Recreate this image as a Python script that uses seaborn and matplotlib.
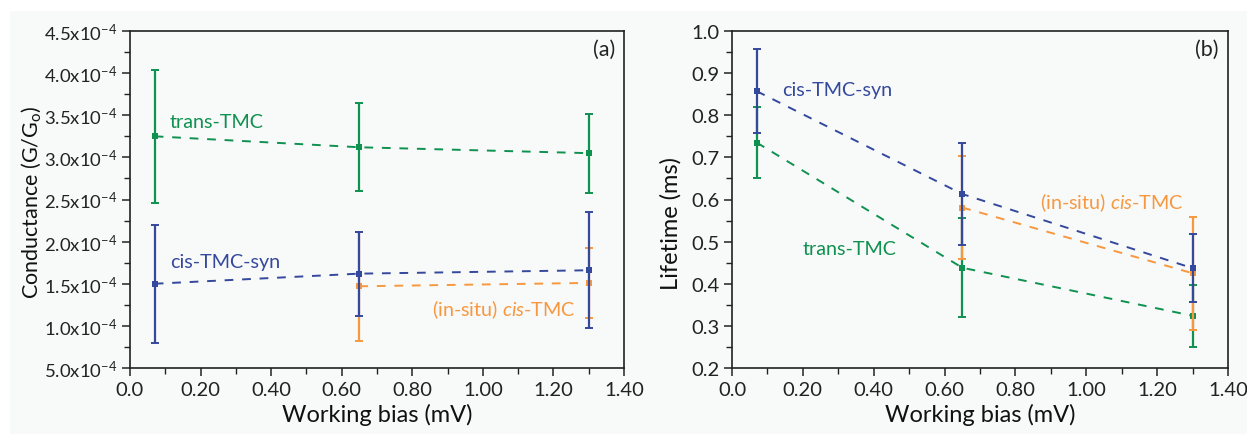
import numpy as np
import pandas as pd
import matplotlib
matplotlib.use("Agg")
import matplotlib.pyplot as plt
from matplotlib.ticker import MultipleLocator, FixedLocator, FixedFormatter
import seaborn as sns

# ---------------- data ----------------
bias = [0.07, 0.65, 1.30]
bias_insitu = [0.65, 1.30]

# conductance (units of 1e-4 G/G0)
cond_trans = [3.25, 3.12, 3.05]
cond_trans_err = [0.79, 0.52, 0.47]
cond_syn = [1.50, 1.62, 1.66]
cond_syn_err = [0.70, 0.50, 0.69]
cond_insitu = [1.47, 1.51]
cond_insitu_err = [0.65, 0.42]

# lifetime (ms)
life_syn = [0.857, 0.613, 0.437]
life_syn_err = [0.100, 0.120, 0.080]
life_trans = [0.735, 0.438, 0.324]
life_trans_err = [0.085, 0.118, 0.074]
life_insitu = [0.581, 0.425]
life_insitu_err = [0.122, 0.134]

x_ticks = [0.0, 0.2, 0.4, 0.6, 0.8, 1.0, 1.2, 1.4]
x_tick_labels = ["0.0", "0.20", "0.40", "0.60", "0.80", "1.00", "1.20", "1.40"]
cond_ticks = [0.5, 1.0, 1.5, 2.0, 2.5, 3.0, 3.5, 4.0, 4.5]
cond_tick_labels = ["5.0", "1.0", "1.5", "2.0", "2.5", "3.0", "3.5", "4.0", "4.5"]
life_ticks = [0.2, 0.3, 0.4, 0.5, 0.6, 0.7, 0.8, 0.9, 1.0]
life_tick_labels = ["0.2", "0.3", "0.4", "0.5", "0.6", "0.7", "0.8", "0.9", "1.0"]

GREEN = "#0f9150"
BLUE = "#34489c"
ORANGE = "#f7983f"
BG = "#f8f9f9"

sns.set_theme(style="ticks")
FONT = "Lato"
plt.rcParams["font.family"] = [FONT, "DejaVu Sans"]
plt.rcParams["mathtext.fontset"] = "custom"
plt.rcParams["mathtext.rm"] = FONT
plt.rcParams["mathtext.it"] = FONT + ":italic"
plt.rcParams["mathtext.bf"] = FONT + ":bold"

fig = plt.figure(figsize=(12.47, 4.35), dpi=100, facecolor="white")
fig.patches.append(plt.Rectangle((10 / 1247, 0), 1 - 10 / 1247, 1 - 12 / 435,
                                 transform=fig.transFigure, facecolor=BG,
                                 edgecolor="none", zorder=-10))

axL = fig.add_axes([130 / 1247, 1 - 369 / 435, 494 / 1247, 337 / 435])
axR = fig.add_axes([732 / 1247, 1 - 369 / 435, 496 / 1247, 337 / 435])

def series(ax, x, y, err, color, z):
    df = pd.DataFrame({"x": x, "y": y})
    sns.lineplot(data=df, x="x", y="y", ax=ax, color=color, linewidth=1.4,
                 linestyle=(0, (4.5, 4.5)), marker="s", markersize=5,
                 markeredgewidth=0, zorder=z)
    ax.errorbar(x, y, yerr=err, fmt="none", ecolor=color, elinewidth=1.6,
                capsize=3.2, capthick=1.4, zorder=z)

series(axL, bias, cond_trans, cond_trans_err, GREEN, 3)
series(axL, bias_insitu, cond_insitu, cond_insitu_err, ORANGE, 3)
series(axL, bias, cond_syn, cond_syn_err, BLUE, 4)

series(axR, bias, life_trans, life_trans_err, GREEN, 3)
series(axR, bias_insitu, life_insitu, life_insitu_err, ORANGE, 3)
series(axR, bias, life_syn, life_syn_err, BLUE, 4)

for ax in (axL, axR):
    ax.set_facecolor(BG)
    ax.set_xlim(0, 1.4)
    ax.xaxis.set_major_locator(FixedLocator(x_ticks))
    ax.xaxis.set_major_formatter(FixedFormatter(x_tick_labels))
    ax.xaxis.set_minor_locator(MultipleLocator(0.1))
    ax.set_xlabel("Working bias (mV)", fontsize=17, color="#111111", labelpad=4)
    for s in ax.spines.values():
        s.set_visible(True)
        s.set_color("#222222")
        s.set_linewidth(1.2)
    ax.tick_params(which="major", direction="out", length=6, width=1.1,
                   labelsize=14.5, colors="#222222", pad=3)
    ax.tick_params(which="minor", direction="out", length=4, width=1.0,
                   colors="#222222")
    ax.tick_params(axis="both", which="both", top=False, right=False)

axL.set_ylim(0.5, 4.5)
axL.yaxis.set_major_locator(FixedLocator(cond_ticks))
axL.yaxis.set_major_formatter(FixedFormatter(
    [l + r"x10$^{\mathregular{-4}}$" for l in cond_tick_labels]))
axL.yaxis.set_minor_locator(MultipleLocator(0.25))
axL.tick_params(axis="y", which="major", labelsize=13.3)
axL.set_ylabel(r"Conductance (G/G$_{\mathregular{o}}$)", fontsize=15.5,
               color="#111111")
axL.yaxis.set_label_coords(-0.176, 0.493)

axR.set_ylim(0.2, 1.0)
axR.yaxis.set_major_locator(FixedLocator(life_ticks))
axR.yaxis.set_major_formatter(FixedFormatter(life_tick_labels))
axR.yaxis.set_minor_locator(MultipleLocator(0.05))
axR.set_ylabel("Lifetime (ms)", fontsize=17, color="#111111")
axR.yaxis.set_label_coords(-0.101, 0.433)

tfs = 14.2
axL.text(0.113, 3.43, "trans-TMC", color=GREEN, fontsize=tfs, va="center", ha="left")
axL.text(0.113, 1.76, "cis-TMC-syn", color=BLUE, fontsize=tfs, va="center", ha="left")
axL.text(1.263, 1.21, r"(in-situ) $\mathit{cis}$-TMC", color=ORANGE, fontsize=tfs,
         va="center", ha="right")
axL.text(1.375, 4.29, "(a)", color="#222222", fontsize=15.5, va="center", ha="right")

axR.text(0.142, 0.862, "cis-TMC-syn", color=BLUE, fontsize=tfs, va="center", ha="left")
axR.text(0.199, 0.4825, "trans-TMC", color=GREEN, fontsize=tfs, va="center", ha="left")
axR.text(1.274, 0.596, r"(in-situ) $\mathit{cis}$-TMC", color=ORANGE, fontsize=tfs,
         va="center", ha="right")
axR.text(1.373, 0.957, "(b)", color="#222222", fontsize=15.5, va="center", ha="right")

fig.savefig("out.png", dpi=100, facecolor=fig.get_facecolor())
